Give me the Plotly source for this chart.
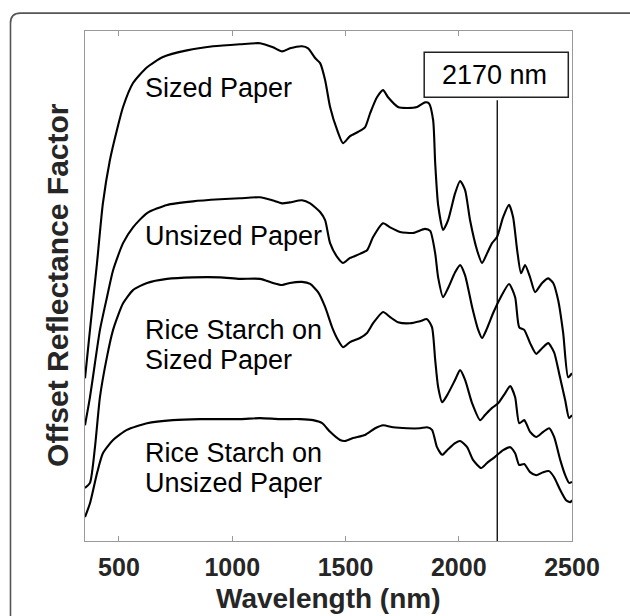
import plotly.graph_objects as go

# Wavelength (nm) and offset reflectance factor (arbitrary, offset) for each sample
sized_x = [350, 372, 403, 429, 460, 491, 518, 562, 624, 694, 800, 915, 1034, 1123, 1180, 1220, 1255, 1308, 1335,
           1366, 1388, 1410, 1432, 1463, 1489, 1520, 1555, 1586, 1609, 1639, 1666, 1688, 1732, 1772, 1816, 1851,
           1869, 1887, 1896, 1909, 1931, 1953, 1984, 2006, 2028, 2050, 2081, 2103, 2125, 2147, 2169, 2196, 2222,
           2240, 2258, 2275, 2293, 2315, 2337, 2368, 2395, 2417, 2439, 2461, 2483, 2500]
sized_y = [31.9, 41.4, 54.5, 66.2, 74.7, 80.6, 85.1, 89.8, 92.9, 94.9, 96.2, 97.0, 97.4, 97.6, 96.8, 96.0, 96.6, 97.0, 96.6,
           94.7, 93.7, 90.4, 85.1, 80.6, 78.0, 79.4, 80.2, 81.1, 83.9, 87.0, 88.4, 87.0, 85.1, 84.9, 85.1, 86.0,
           85.8, 82.5, 74.1, 65.9, 61.0, 62.9, 68.2, 70.6, 68.8, 62.9, 57.0, 54.5, 56.4, 58.4, 59.6, 63.5, 65.9,
           63.5, 57.0, 52.5, 54.1, 51.7, 48.8, 50.6, 51.5, 50.6, 47.2, 40.8, 32.1, 32.9]

unsized_x = [350, 372, 394, 416, 447, 474, 518, 562, 624, 712, 827, 946, 1034, 1123, 1176, 1220, 1255, 1308, 1344,
             1388, 1410, 1432, 1463, 1489, 1520, 1564, 1595, 1622, 1666, 1697, 1741, 1798, 1851, 1874, 1896, 1909,
             1931, 1953, 1984, 2006, 2028, 2059, 2086, 2103, 2125, 2152, 2183, 2222, 2249, 2267, 2289, 2315, 2342,
             2368, 2395, 2421, 2443, 2470, 2487, 2500]
unsized_y = [22.7, 28.2, 34.9, 41.4, 47.8, 53.1, 58.4, 61.5, 64.3, 65.9, 66.6, 67.0, 67.2, 67.4, 66.8, 66.2, 66.4, 66.8, 66.2,
             64.5, 62.9, 58.4, 55.7, 54.5, 55.5, 56.3, 57.0, 59.6, 62.3, 61.5, 60.6, 60.4, 61.2, 60.8, 56.4, 51.7,
             47.8, 49.6, 52.7, 54.1, 52.1, 45.9, 41.4, 39.8, 41.7, 44.7, 47.6, 50.4, 47.8, 41.9, 41.4, 38.8, 36.7,
             37.8, 38.8, 37.0, 32.9, 27.6, 24.1, 24.7]

rice_sized_x = [350, 372, 394, 416, 447, 474, 518, 562, 624, 712, 827, 946, 1034, 1123, 1180, 1220, 1255, 1308, 1344,
                1379, 1410, 1441, 1467, 1489, 1520, 1564, 1595, 1622, 1666, 1697, 1732, 1785, 1829, 1860, 1882, 1896,
                1909, 1927, 1949, 1984, 2006, 2028, 2059, 2094, 2116, 2147, 2174, 2205, 2227, 2249, 2267, 2289, 2315,
                2342, 2373, 2399, 2421, 2448, 2470, 2487, 2500]
rice_sized_y = [10.4, 11.4, 18.4, 28.2, 36.1, 41.4, 46.6, 49.2, 50.6, 51.4, 51.7, 51.7, 51.4, 51.4, 50.6, 50.2, 50.6, 50.8, 50.4,
                48.8, 45.9, 41.9, 39.4, 38.0, 39.0, 39.8, 40.8, 42.7, 44.9, 43.9, 42.9, 42.7, 43.1, 43.5, 41.9, 35.5,
                30.2, 27.2, 28.6, 31.6, 33.5, 31.6, 27.0, 23.7, 24.7, 26.1, 27.0, 29.0, 30.4, 28.2, 23.1, 23.7, 21.4,
                20.4, 21.4, 22.1, 20.4, 15.9, 12.9, 11.4, 11.6]

rice_unsized_x = [350, 372, 403, 429, 474, 535, 624, 738, 858, 1034, 1123, 1211, 1299, 1357, 1397, 1432, 1476, 1498,
                  1533, 1586, 1631, 1666, 1710, 1772, 1829, 1860, 1882, 1904, 1927, 1953, 1984, 2006, 2037, 2063,
                  2099, 2125, 2160, 2196, 2227, 2249, 2267, 2289, 2315, 2342, 2373, 2399, 2421, 2448, 2474, 2492, 2500]
rice_unsized_y = [4.7, 7.4, 13.3, 17.2, 19.8, 21.8, 23.1, 23.7, 23.9, 23.9, 24.1, 23.9, 23.9, 23.7, 23.1, 21.4, 19.8, 19.6,
                  20.2, 20.8, 22.1, 22.7, 22.3, 22.1, 22.1, 22.3, 21.8, 18.4, 16.9, 18.0, 19.2, 19.6, 18.4, 15.9,
                  14.3, 15.3, 16.5, 17.8, 18.4, 17.2, 14.9, 15.1, 13.5, 12.9, 13.5, 13.7, 12.5, 10.0, 8.0, 7.6, 8.0]

marker_nm = 2170
x_ticks = [500, 1000, 1500, 2000, 2500]
x_tick_labels = ["500", "1000", "1500", "2000", "2500"]

FONT = "Liberation Sans, Arial, Helvetica, sans-serif"
AX = "#262626"

fig = go.Figure()
for xs, ys in [(sized_x, sized_y), (unsized_x, unsized_y), (rice_sized_x, rice_sized_y), (rice_unsized_x, rice_unsized_y)]:
    fig.add_trace(go.Scatter(x=xs, y=ys, mode="lines",
                             line=dict(color="black", width=2.1, shape="spline", smoothing=0.6),
                             showlegend=False, hoverinfo="skip"))

# vertical marker line
fig.add_shape(type="line", xref="x", yref="paper", x0=marker_nm, x1=marker_nm, y0=0, y1=0.8642,
              line=dict(color="black", width=1.3))
# box around label
fig.add_shape(type="rect", xref="paper", yref="paper", x0=0.6965, x1=0.9924, y0=0.8701, y1=0.9583,
              line=dict(color="#222222", width=1.5), fillcolor="white")
fig.add_annotation(xref="paper", yref="paper", x=0.8414, y=0.9132, text=f"{marker_nm} nm", showarrow=False,
                   xanchor="center", yanchor="middle", font=dict(family=FONT, size=27, color="black"))

# outer rounded frame
r_x = 10 / 487.0
r_y = 10 / 510.0
x0, y1 = -0.1530, 1.0350
x1, y0 = 1.1500, -0.2200
path = (f"M {x0},{y0} L {x0},{y1 - r_y} Q {x0},{y1} {x0 + r_x},{y1} "
        f"L {x1 - r_x},{y1} Q {x1},{y1} {x1},{y1 - r_y} L {x1},{y0} Z")
fig.add_shape(type="path", xref="paper", yref="paper", path=path,
              line=dict(color="#555555", width=1.6), fillcolor="rgba(0,0,0,0)", layer="below")

# curve labels
labels = [("Sized Paper", 0.8877), ("Unsized Paper", 0.5987), ("Rice Starch on", 0.4145),
          ("Sized Paper", 0.3557), ("Rice Starch on", 0.1734), ("Unsized Paper", 0.1146)]
for txt, yy in labels:
    fig.add_annotation(xref="paper", yref="paper", x=0.1186, y=yy, text=txt, showarrow=False,
                       xanchor="left", yanchor="middle", font=dict(family=FONT, size=27, color="black"))

# axis titles
fig.add_annotation(xref="paper", yref="paper", x=-0.0555, y=0.502, text="Offset Reflectance Factor",
                   textangle=-90, showarrow=False, xanchor="center", yanchor="middle",
                   font=dict(family=FONT, size=30, color=AX, weight="bold"))
fig.add_annotation(xref="paper", yref="paper", x=0.5, y=-0.112, text="Wavelength (nm)",
                   showarrow=False, xanchor="center", yanchor="middle",
                   font=dict(family=FONT, size=28, color=AX, weight="bold"))

fig.update_layout(
    width=630, height=616,
    margin=dict(l=85, r=58, t=31, b=75, pad=0),
    paper_bgcolor="white", plot_bgcolor="white",
    xaxis=dict(range=[350, 2500], tickvals=x_ticks, ticktext=x_tick_labels, ticks="inside", ticklen=5,
               tickcolor="#999999", showline=True, linecolor="#999999", linewidth=1, mirror="ticks",
               showgrid=False, zeroline=False, ticklabelstandoff=4,
               tickfont=dict(family=FONT, size=25, color=AX, weight="bold")),
    yaxis=dict(range=[0, 100], showticklabels=False, ticks="", showline=True, linecolor="#999999",
               linewidth=1, mirror=True, showgrid=False, zeroline=False),
)

fig.write_html("out.html")
